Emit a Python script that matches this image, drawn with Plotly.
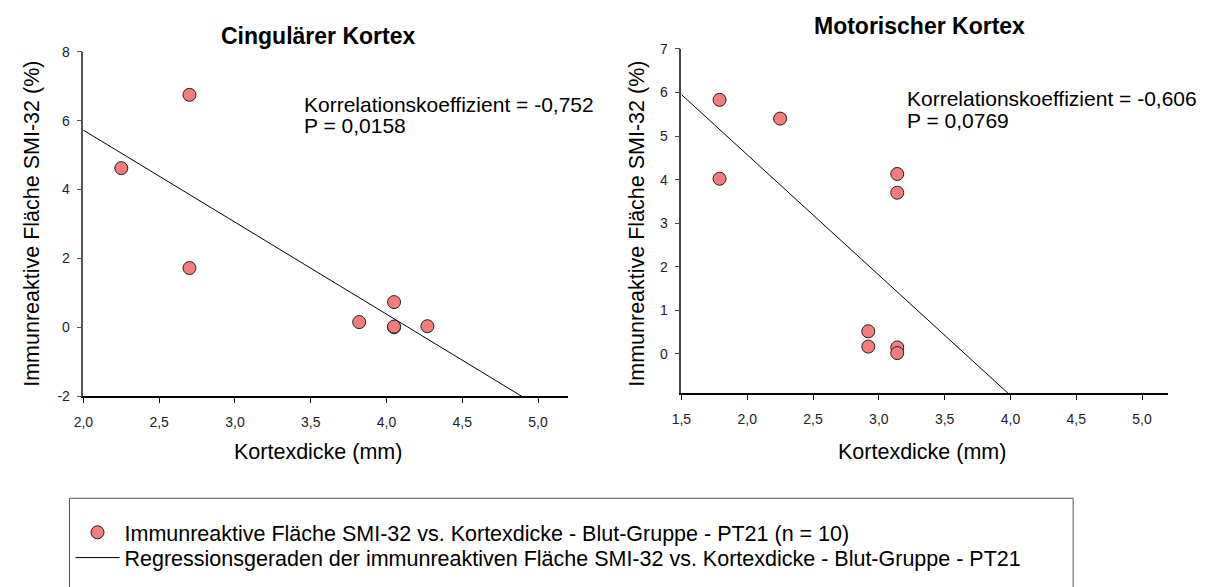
import numpy as np
import plotly.graph_objects as go

# Cingulärer Kortex: Kortexdicke (mm) vs. immunreaktive Fläche SMI-32 (%)
cing_dicke = [2.25, 2.70, 2.70, 3.82, 4.05, 4.05, 4.05, 4.27]
cing_flaeche = [4.62, 6.75, 1.72, 0.15, 0.73, 0.00, 0.02, 0.03]

# Motorischer Kortex
mot_dicke = [1.79, 1.79, 2.25, 3.14, 3.14, 2.92, 2.92, 3.14, 3.14]
mot_flaeche = [5.83, 4.02, 5.40, 4.13, 3.70, 0.52, 0.17, 0.15, 0.02]

titel = ["Cingulärer Kortex", "Motorischer Kortex"]
korrelation = ["-0,752", "-0,606"]
p_wert = ["0,0158", "0,0769"]

cing_xticks = [2.0, 2.5, 3.0, 3.5, 4.0, 4.5, 5.0]
cing_yticks = [-2, 0, 2, 4, 6, 8]
mot_xticks = [1.5, 2.0, 2.5, 3.0, 3.5, 4.0, 4.5, 5.0]
mot_yticks = [0, 1, 2, 3, 4, 5, 6, 7]

punkt_name = "Immunreaktive Fläche SMI-32 vs. Kortexdicke - Blut-Gruppe - PT21 (n = 10)"
linie_name = ("Regressionsgeraden der immunreaktiven Fläche SMI-32 vs. "
              "Kortexdicke - Blut-Gruppe - PT21")

W, H = 1212, 587
FONT = "Liberation Sans, Arial, sans-serif"


def px(x):
    return x / W


def py(y):
    return 1 - y / H


def komma(v, nachkomma):
    return f"{v:.{nachkomma}f}".replace(".", ",")


fig = go.Figure()

panels = [
    (cing_dicke, cing_flaeche, "x", "y", [2.0, 5.2], True),
    (mot_dicke, mot_flaeche, "x2", "y2", [1.5, 5.2], False),
]

for dicke, flaeche, xa, ya, xr, first in panels:
    slope, intercept = np.polyfit(dicke, flaeche, 1)
    xl = np.array(xr)
    fig.add_trace(go.Scatter(
        x=dicke, y=flaeche, mode="markers",
        marker=dict(size=13, color="#F47C7C", line=dict(color="#222222", width=1)),
        name=punkt_name, showlegend=first, legend="legend",
        xaxis=xa, yaxis=ya,
    ))
    fig.add_trace(go.Scatter(
        x=xl, y=slope * xl + intercept, mode="lines",
        line=dict(color="black", width=1),
        name=linie_name, showlegend=first, legend="legend2",
        xaxis=xa, yaxis=ya,
    ))

axis_common = dict(
    showline=True, ticks="outside", ticklen=5, showgrid=False, zeroline=False,
    tickfont=dict(size=14, color="#222222", family=FONT),
)

legend_common = dict(
    xanchor="left", yanchor="middle",
    font=dict(size=21.5, family=FONT, color="black"),
    bgcolor="rgba(0,0,0,0)", borderwidth=0, itemwidth=44,
)

fig.update_layout(
    width=W, height=H,
    margin=dict(l=0, r=0, t=0, b=0),
    paper_bgcolor="white", plot_bgcolor="white",
    font=dict(family=FONT, color="black"),
    xaxis=dict(domain=[px(74), px(563)], range=[2.0, 5.2], tickvals=cing_xticks,
               ticktext=[komma(v, 1) for v in cing_xticks], ticklabelstandoff=7,
               linecolor="black", linewidth=1.5, tickcolor="black",
               anchor="y", **axis_common),
    yaxis=dict(domain=[py(399), py(45)], range=[-2, 8], tickvals=cing_yticks,
               ticktext=[str(v) for v in cing_yticks], ticklabelstandoff=4,
               linecolor="#555555", linewidth=1.5, tickcolor="#555555",
               anchor="x", **axis_common),
    xaxis2=dict(domain=[px(677), px(1168)], range=[1.5, 5.2], tickvals=mot_xticks,
                ticktext=[komma(v, 1) for v in mot_xticks], ticklabelstandoff=7,
                linecolor="black", linewidth=1.5, tickcolor="black",
                anchor="y2", **axis_common),
    yaxis2=dict(domain=[py(396), py(42)], range=[-0.9, 7], tickvals=mot_yticks,
                ticktext=[str(v) for v in mot_yticks], ticklabelstandoff=4,
                linecolor="#444444", linewidth=1.5, tickcolor="#444444",
                anchor="x2", **axis_common),
    legend=dict(x=px(61), y=py(539), **legend_common),
    legend2=dict(x=px(61), y=py(565), **legend_common),
    showlegend=True,
)

# legend frame
fig.add_shape(type="rect", xref="paper", yref="paper",
              x0=px(60), x1=px(1072), y0=py(620), y1=py(504),
              line=dict(color="#555555", width=1), fillcolor="rgba(0,0,0,0)")

ann = []
# panel titles
ann.append(dict(text="<b>" + titel[0] + "</b>", x=px(311), y=py(29), size=23))
ann.append(dict(text="<b>" + titel[1] + "</b>", x=px(917), y=py(19), size=23))
# axis titles
for cx in (311, 920):
    ann.append(dict(text="Kortexdicke (mm)", x=px(cx), y=py(456)))
for cx in (22, 632):
    ann.append(dict(text="Immunreaktive Fläche SMI-32 (%)", x=px(cx), y=py(222),
                    textangle=-90))
# statistics
stats_pos = [(294, 99, 121), (902, 93, 116)]
for (sx, y1, y2), r, p in zip(stats_pos, korrelation, p_wert):
    ann.append(dict(text="Korrelationskoeffizient = " + r, x=px(sx), y=py(y1),
                    xanchor="left", size=21))
    ann.append(dict(text="P = " + p, x=px(sx), y=py(y2), xanchor="left", size=21))

for a in ann:
    size = a.pop("size", 21.5)
    a.setdefault("xanchor", "center")
    a.update(xref="paper", yref="paper", yanchor="middle", showarrow=False,
             font=dict(size=size, family=FONT, color="black"))
    fig.add_annotation(**a)

fig.write_html("out.html")
